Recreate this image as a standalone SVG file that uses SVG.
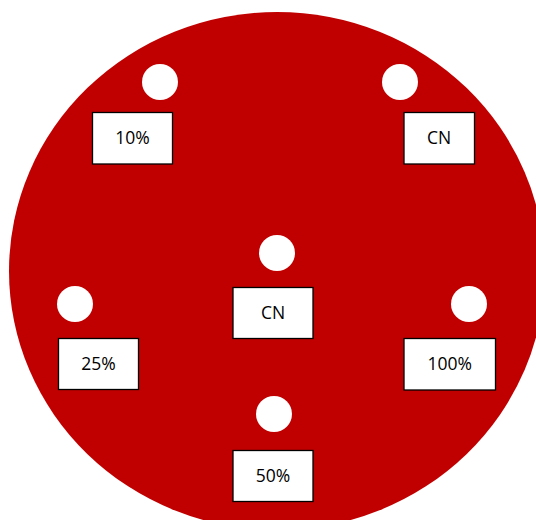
<svg xmlns="http://www.w3.org/2000/svg" width="536" height="520" viewBox="0 0 536 520">
<style>
.hole{fill:#ffffff}
.box rect{fill:#ffffff;stroke:#000000;stroke-width:1.3}
.box text{font-family:"Open Sans","Liberation Sans",sans-serif;font-size:17.5px;fill:#000000;text-anchor:middle}
</style>
<rect width="536" height="520" fill="#ffffff"/>
<g id="plate">
<ellipse cx="277" cy="271" rx="268" ry="259" fill="#C00000"/>
</g>
<g id="holes">
<circle class="hole" cx="160" cy="82" r="18"/>
<circle class="hole" cx="400" cy="82" r="18"/>
<circle class="hole" cx="277" cy="253" r="18"/>
<circle class="hole" cx="75" cy="304" r="18"/>
<circle class="hole" cx="469" cy="304" r="18"/>
<circle class="hole" cx="274" cy="414" r="18"/>
</g>
<g id="connectors"></g>
<g id="node-10" class="box"><rect x="92.5" y="112.5" width="80" height="51.5"/><text x="132.5" y="144">10%</text></g>
<g id="node-cn-top" class="box"><rect x="404" y="112.5" width="70.5" height="51.5"/><text x="439.2" y="144">CN</text></g>
<g id="node-cn-center" class="box"><rect x="233" y="287.5" width="80" height="51"/><text x="273" y="318.8">CN</text></g>
<g id="node-25" class="box"><rect x="58.5" y="338.5" width="80" height="51"/><text x="98.5" y="370">25%</text></g>
<g id="node-100" class="box"><rect x="404" y="338.5" width="91.5" height="51.5"/><text x="449.7" y="370">100%</text></g>
<g id="node-50" class="box"><rect x="233" y="450.5" width="80" height="51"/><text x="273" y="482">50%</text></g>
</svg>
